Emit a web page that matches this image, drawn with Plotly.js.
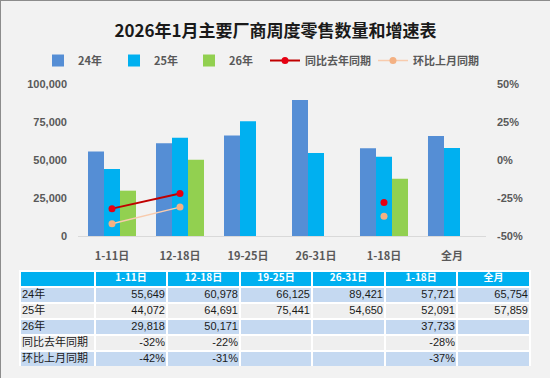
<!DOCTYPE html>
<html>
<head>
<meta charset="utf-8">
<script src="https://cdn.plot.ly/plotly-3.0.1.min.js"></script>
<style>
html,body{margin:0;padding:0;background:#f2f2f2;}
#chart{width:549px;height:377px;border-left:1px solid #8c8c8c;border-top:1px solid #8c8c8c;}
</style>
</head>
<body>
<div id="chart"></div>
<script>
const categories = ['1-11日','12-18日','19-25日','26-31日','1-18日','全月'];
const seriesNames = ['24年','25年','26年','同比去年同期','环比上月同期'];
const v24 = [55649, 60978, 66125, 89421, 57721, 65754];
const v25 = [44072, 64691, 75441, 54650, 52091, 57859];
const v26 = [29818, 50171, null, null, 37733, null];
const yoy = [-0.32, -0.22, null, null, -0.28, null];
const mom = [-0.42, -0.31, null, null, -0.37, null];
const pctTickVals = [-0.5, -0.25, 0, 0.25, 0.5];
const pctTickText = ['-50%', '-25%', '0%', '25%', '50%'];

const FONT = '"Liberation Sans", Arial, "Noto Sans CJK SC", sans-serif';
const CJK = '"Noto Sans CJK SC", "Liberation Sans", sans-serif';

function fmtNum(v){ return v == null ? '' : v.toLocaleString('en-US'); }
function fmtPct(v){ return v == null ? '' : Math.round(v*100) + '%'; }

const rowColors = ['#c5d9f1','#efefef','#c5d9f1','#efefef','#c5d9f1'];
const cols = [seriesNames];
for (let i = 0; i < categories.length; i++) {
  cols.push([fmtNum(v24[i]), fmtNum(v25[i]), fmtNum(v26[i]), fmtPct(yoy[i]), fmtPct(mom[i])]);
}
const emptyCols = cols.map(c => c.map(() => ''));
const fills = cols.map(() => rowColors);
const headerVals = [''].concat(categories);
const emptyHeader = headerVals.map(() => '');
const aligns = ['left','right','right','right','right','right','right'];
const clear = 'rgba(0,0,0,0)';

const traces = [
  {type:'bar', name:seriesNames[0], legend:'legend', x:categories, y:v24, marker:{color:'#558ed5'}},
  {type:'bar', name:seriesNames[1], legend:'legend2', x:categories, y:v25, marker:{color:'#00b0f0'}},
  {type:'bar', name:seriesNames[2], legend:'legend3', x:categories, y:v26, marker:{color:'#92d050'}},
  {type:'scatter', mode:'lines+markers', name:seriesNames[3], legend:'legend4', x:categories, y:yoy, yaxis:'y2',
   line:{color:'#c00000', width:2}, marker:{color:'#e60012', size:7}, connectgaps:false},
  {type:'scatter', mode:'lines+markers', name:seriesNames[4], legend:'legend5', x:categories, y:mom, yaxis:'y2',
   line:{color:'#f8cbad', width:1.5}, marker:{color:'#f4b183', size:7}, connectgaps:false},
  // table layer 1: fills and borders
  {type:'table', domain:{x:[0.01333,0.98476], y:[0,0.3392]},
   columnwidth:[75,72,73,72,73,72,73],
   header:{values:emptyHeader, fill:{color:'#00b0f0'}, line:{color:'#ffffff', width:1.5}, height:16, font:{size:10}},
   cells:{values:emptyCols, fill:{color:fills}, line:{color:'#ffffff', width:1.5}, height:16, font:{size:11}}},
  // table layer 2: header text
  {type:'table', domain:{x:[0.01333,0.98476], y:[0,0.3587]},
   columnwidth:[75,72,73,72,73,72,73],
   header:{values:headerVals, fill:{color:clear}, align:'center', line:{width:0, color:clear}, height:22,
     font:{family:CJK, size:10, color:'#ffffff', weight:'bold'}},
   cells:{values:emptyCols, fill:{color:clear}, line:{width:0, color:clear}, height:16, font:{size:11}}},
  // table layer 3: body text
  {type:'table', domain:{x:[0.0019,0.99619], y:[0,0.35689]},
   columnwidth:[87,72,73,72,73,72,73],
   header:{values:emptyHeader, fill:{color:clear}, line:{width:0, color:clear}, height:16, font:{size:10}},
   cells:{values:cols, fill:{color:clear}, align:aligns, line:{width:0, color:clear}, height:16,
     font:{family:FONT, size:11, color:'#1a1a1a'}}}
];

const legendBase = {orientation:'h', xanchor:'left', y:1.083, yanchor:'middle',
  font:{family:CJK, size:11, color:'#595959', weight:'bold'}, bgcolor:clear};
const layout = {
  width:549, height:377,
  paper_bgcolor:'#f2f2f2', plot_bgcolor:'#f2f2f2',
  margin:{l:12, r:12, t:83, b:11},
  font:{family:CJK, color:'#595959'},
  title:{text:'<b>2026年1月主要厂商周度零售数量和增速表</b>', x:0.5, xanchor:'center', y:0.92, yref:'container', yanchor:'middle',
    font:{family:CJK, size:17, color:'#1a1a1a'}},
  barmode:'group', bargap:0.294, bargroupgap:0,
  showlegend:true,
  legend: Object.assign({}, legendBase, {x:0.0476}),
  legend2: Object.assign({}, legendBase, {x:0.1924}),
  legend3: Object.assign({}, legendBase, {x:0.3352}),
  legend4: Object.assign({}, legendBase, {x:0.48}),
  legend5: Object.assign({}, legendBase, {x:0.6857}),
  xaxis:{domain:[0.12381,0.90095], anchor:'y', showgrid:false, zeroline:false, showline:true, linecolor:'#d9d9d9', linewidth:1,
    ticks:'', ticklabelstandoff:10, tickfont:{family:CJK, size:11, color:'#595959', weight:'bold'}, fixedrange:true},
  yaxis:{domain:[0.4629,1], range:[0,100000], dtick:25000, tickformat:',', showgrid:false, zeroline:false, showline:false,
    ticks:'', ticklabelstandoff:10, tickfont:{family:FONT, size:11, color:'#595959', weight:'bold'}, fixedrange:true},
  yaxis2:{overlaying:'y', side:'right', anchor:'x', range:[-0.5,0.5], tickmode:'array', tickvals:pctTickVals, ticktext:pctTickText,
    showgrid:false, zeroline:false, ticks:'', ticklabelstandoff:10,
    tickfont:{family:FONT, size:11, color:'#595959', weight:'bold'}, fixedrange:true}
};

Plotly.newPlot('chart', traces, layout, {displayModeBar:false, staticPlot:true});
</script>
</body>
</html>
